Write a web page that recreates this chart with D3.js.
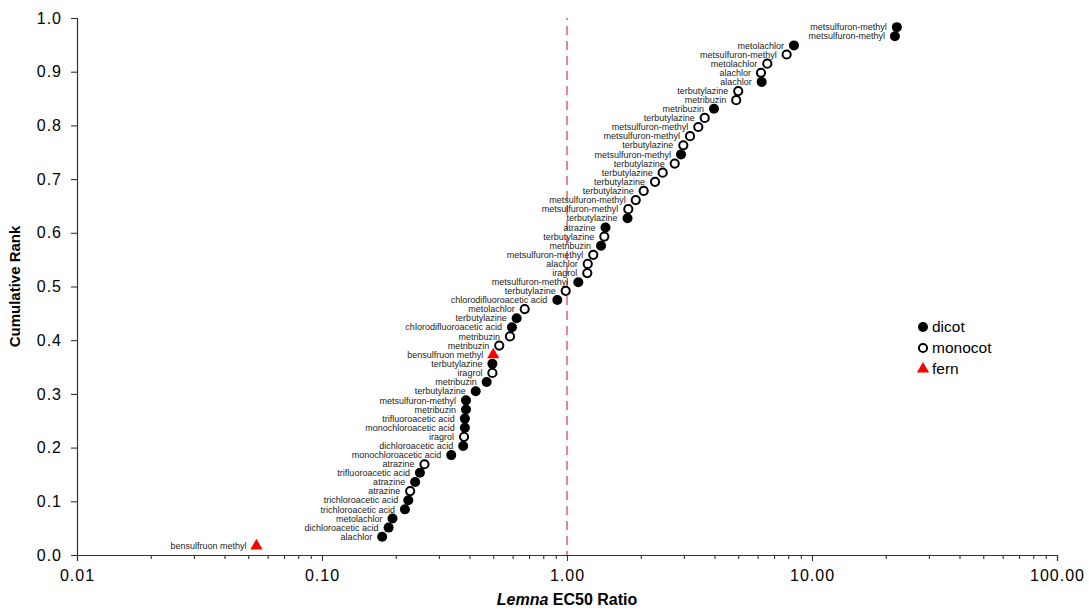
<!DOCTYPE html>
<html>
<head>
<meta charset="utf-8">
<script src="https://cdn.jsdelivr.net/npm/d3@7"></script>
<style>
  body { margin: 0; background: #fff; }
  text { font-family: "Liberation Sans", Arial, sans-serif; }
</style>
</head>
<body>
<div class="chart"></div>
<script>
// species tested, in rank order (lowest ratio first)
var chemicals = [
    "bensulfruon methyl", "alachlor", "dichloroacetic acid", "metolachlor", "trichloroacetic acid",
    "trichloroacetic acid", "atrazine", "atrazine", "trifluoroacetic acid", "atrazine",
    "monochloroacetic acid", "dichloroacetic acid", "iragrol", "monochloroacetic acid", "trifluoroacetic acid",
    "metribuzin", "metsulfuron-methyl", "terbutylazine", "metribuzin", "iragrol",
    "terbutylazine", "bensulfruon methyl", "metribuzin", "metribuzin", "chlorodifluoroacetic acid",
    "terbutylazine", "metolachlor", "chlorodifluoroacetic acid", "terbutylazine", "metsulfuron-methyl",
    "iragrol", "alachlor", "metsulfuron-methyl", "metribuzin", "terbutylazine",
    "atrazine", "terbutylazine", "metsulfuron-methyl", "metsulfuron-methyl", "terbutylazine",
    "terbutylazine", "terbutylazine", "terbutylazine", "metsulfuron-methyl", "terbutylazine",
    "metsulfuron-methyl", "metsulfuron-methyl", "terbutylazine", "metribuzin", "metribuzin",
    "terbutylazine", "alachlor", "alachlor", "metolachlor", "metsulfuron-methyl",
    "metolachlor", "metsulfuron-methyl", "metsulfuron-methyl"
];
var groups = [
    "fern", "dicot", "dicot", "dicot", "dicot",
    "dicot", "monocot", "dicot", "dicot", "monocot",
    "dicot", "dicot", "monocot", "dicot", "dicot",
    "dicot", "dicot", "dicot", "dicot", "monocot",
    "dicot", "fern", "monocot", "monocot", "dicot",
    "dicot", "monocot", "dicot", "monocot", "dicot",
    "monocot", "monocot", "monocot", "dicot", "monocot",
    "dicot", "dicot", "monocot", "monocot", "monocot",
    "monocot", "monocot", "monocot", "dicot", "monocot",
    "monocot", "monocot", "monocot", "dicot", "monocot",
    "monocot", "dicot", "monocot", "monocot", "monocot",
    "dicot", "dicot", "dicot"
];
var ratios = [
    0.054, 0.176, 0.187, 0.194, 0.218,
    0.225, 0.229, 0.240, 0.251, 0.262,
    0.337, 0.377, 0.380, 0.383, 0.383,
    0.387, 0.387, 0.424, 0.470, 0.496,
    0.496, 0.500, 0.529, 0.585, 0.596,
    0.623, 0.672, 0.913, 0.988, 1.112,
    1.210, 1.215, 1.280, 1.377, 1.420,
    1.436, 1.766, 1.779, 1.908, 2.056,
    2.287, 2.458, 2.752, 2.920, 2.984,
    3.178, 3.435, 3.648, 3.981, 4.905,
    4.998, 6.232, 6.190, 6.570, 7.880,
    8.440, 21.8, 22.2
];
var ranks = [
    0.017, 0.034, 0.051, 0.068, 0.085,
    0.102, 0.119, 0.136, 0.153, 0.169,
    0.186, 0.203, 0.220, 0.237, 0.254,
    0.271, 0.288, 0.305, 0.322, 0.339,
    0.356, 0.373, 0.390, 0.407, 0.424,
    0.441, 0.458, 0.475, 0.492, 0.508,
    0.525, 0.542, 0.559, 0.576, 0.593,
    0.610, 0.627, 0.644, 0.661, 0.678,
    0.695, 0.712, 0.729, 0.746, 0.763,
    0.780, 0.797, 0.814, 0.831, 0.847,
    0.864, 0.881, 0.898, 0.915, 0.932,
    0.949, 0.966, 0.983
];
var xTicks = [0.01, 0.1, 1, 10, 100];
var xTickLabels = ["0.01", "0.10", "1.00", "10.00", "100.00"];
var yTicks = [0, 0.1, 0.2, 0.3, 0.4, 0.5, 0.6, 0.7, 0.8, 0.9, 1.0];
var legendGroups = ["dicot", "monocot", "fern"];

var W = 1089, H = 616;
var svg = d3.select(".chart").append("svg")
    .attr("width", W)
    .attr("height", H);

var x = d3.scaleLog().domain([0.01, 100]).range([77, 1057]);
var y = d3.scaleLinear().domain([0, 1]).range([555, 18]);

var points = ratios.map(function(r, i) {
    return {ratio: r, rank: ranks[i], name: chemicals[i], group: groups[i]};
});

// threshold line at ratio 1
svg.append("line")
    .attr("x1", x(1)).attr("x2", x(1))
    .attr("y1", y(1)).attr("y2", y(0))
    .attr("stroke", "#e0474c")
    .attr("stroke-width", 1.3)
    .attr("stroke-dasharray", "9,6")
    .attr("stroke-dashoffset", 7);

// x axis, major + minor ticks
var xAxis = d3.axisBottom(x)
    .tickValues(x.ticks())
    .tickSize(6)
    .tickPadding(9)
    .tickFormat(function(d) {
        var k = xTicks.indexOf(+d.toPrecision(6));
        return k >= 0 ? xTickLabels[k] : "";
    });
var gx = svg.append("g")
    .attr("transform", "translate(0," + y(0) + ")")
    .call(xAxis);
gx.selectAll(".tick line")
    .attr("y2", function(d) { return xTicks.indexOf(+d.toPrecision(6)) >= 0 ? 6 : 4; });

var gy = svg.append("g")
    .attr("transform", "translate(" + x(0.01) + ",0)")
    .call(d3.axisLeft(y).tickValues(yTicks).tickSize(6).tickPadding(9).tickFormat(d3.format(".1f")));

[gx, gy].forEach(function(g) {
    g.select(".domain").attr("stroke", "#333").attr("stroke-width", 1.2);
    g.selectAll(".tick line").attr("stroke", "#333").attr("stroke-width", 1.1);
    g.selectAll(".tick text")
        .attr("fill", "#000")
        .style("font-size", "16px")
        .style("letter-spacing", "1px");
});

// axis titles
var xt = svg.append("text")
    .attr("x", x(1))
    .attr("y", 605)
    .attr("text-anchor", "middle")
    .style("font-size", "16px")
    .style("font-weight", "bold");
xt.append("tspan").style("font-style", "italic").text("Lemna");
xt.append("tspan").text(" EC50 Ratio");

svg.append("text")
    .attr("transform", "translate(20," + y(0.5) + ") rotate(-90)")
    .attr("text-anchor", "middle")
    .style("font-size", "15px")
    .style("font-weight", "bold")
    .text("Cumulative Rank");

// markers
var triangle = d3.symbol().type(d3.symbolTriangle).size(65);
function drawMarker(sel, group) {
    if (group === "fern") {
        sel.append("path").attr("d", triangle).attr("fill", "#ff0000");
    } else if (group === "monocot") {
        sel.append("circle").attr("r", 4.1).attr("fill", "#fff")
            .attr("stroke", "#000").attr("stroke-width", 2);
    } else {
        sel.append("circle").attr("r", 5).attr("fill", "#000");
    }
}

var pt = svg.selectAll(".pt")
    .data(points)
    .enter().append("g")
    .attr("class", "pt")
    .attr("transform", function(d) { return "translate(" + x(d.ratio) + "," + y(d.rank) + ")"; });

pt.each(function(d) { drawMarker(d3.select(this), d.group); });

pt.append("text")
    .attr("x", -10)
    .attr("dy", "0.35em")
    .attr("text-anchor", "end")
    .attr("fill", "#222")
    .style("font-size", "9px")
    .text(function(d) { return d.name; });

// legend
var lg = svg.selectAll(".lg")
    .data(legendGroups)
    .enter().append("g")
    .attr("class", "lg")
    .attr("transform", function(d, i) { return "translate(923," + (327 + i * 21) + ")"; });
lg.each(function(d) { drawMarker(d3.select(this), d); });
lg.append("text")
    .attr("x", 9)
    .attr("dy", "0.35em")
    .attr("fill", "#000")
    .style("font-size", "15.5px")
    .text(function(d) { return d; });
</script>
</body>
</html>
